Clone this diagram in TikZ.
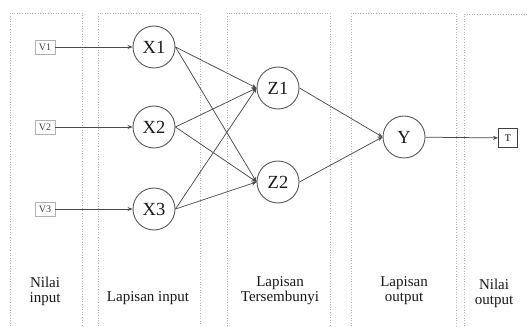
\documentclass[tikz,border=0pt]{standalone}
\usepackage{fontspec}
\setmainfont{Liberation Serif}
\usetikzlibrary{arrows.meta}
\begin{document}
\begin{tikzpicture}[x=1pt,y=-1pt,
  lane/.style={draw=black!30, dotted, line width=0.6pt},
  neuron/.style={circle, draw=black!65, line width=0.9pt, minimum size=42pt, inner sep=0pt, font=\fontsize{18.5}{18.5}\selectfont, text=black!90},
  term/.style={draw=black!30, line width=0.7pt, minimum width=20pt, minimum height=14pt, inner sep=1pt, font=\fontsize{10}{10}\selectfont, text=black!75},
  outterm/.style={draw=black!75, line width=1pt, minimum size=19pt, inner sep=1pt, font=\fontsize{10}{10}\selectfont},
  link/.style={draw=black!70, line width=0.75pt, -{Stealth[length=5pt,width=4pt]}},
  caption/.style={align=center, font=\fontsize{15}{15}\selectfont, text=black!90}
]
\useasboundingbox (0,0) rectangle (529,326);
\fill[white] (0,0) rectangle (529,326);

% layer lanes
\draw[lane] (10,326) -- (10,13) -- (82,13) -- (82,326);
\draw[lane] (98,326) -- (98,13) -- (200,13) -- (200,326);
\draw[lane] (227,326) -- (227,13) -- (330,13) -- (330,326);
\draw[lane] (351,326) -- (351,13) -- (456,13) -- (456,326);
\draw[lane] (464,326) -- (464,14) -- (529,14);

% input values
\node[term] (v1) at (45,47) {V1};
\node[term] (v2) at (45,127) {V2};
\node[term] (v3) at (45,209) {V3};

% input layer
\node[neuron] (x1) at (154,47) {X1};
\node[neuron] (x2) at (154,127) {X2};
\node[neuron] (x3) at (154,209) {X3};

% hidden layer
\node[neuron] (z1) at (278,88) {Z1};
\node[neuron] (z2) at (278,182) {Z2};

% output layer
\node[neuron] (y) at (404,137) {Y};

% output value
\node[outterm] (t) at (508,138) {T};

% connections
\draw[link] (v1) -- (x1);
\draw[link] (v2) -- (x2);
\draw[link] (v3) -- (x3);
\foreach \a in {x1,x2,x3}{
  \foreach \b in {z1,z2}{
    \draw[link] (\a.east) -- (\b.west);
  }
}
\draw[link] (z1.east) -- (y.west);
\draw[link] (z2.east) -- (y.west);
\draw[link] (y) -- (t);

% lane captions
\node[caption] (c1) at (45,291) {Nilai\\input};
\node[caption] (c2) at (148,298) {Lapisan input};
\node[caption] (c3) at (280,291) {Lapisan\\Tersembunyi};
\node[caption] (c4) at (404,291) {Lapisan\\output};
\node[caption] (c5) at (494,293) {Nilai\\output};
\end{tikzpicture}
\end{document}
